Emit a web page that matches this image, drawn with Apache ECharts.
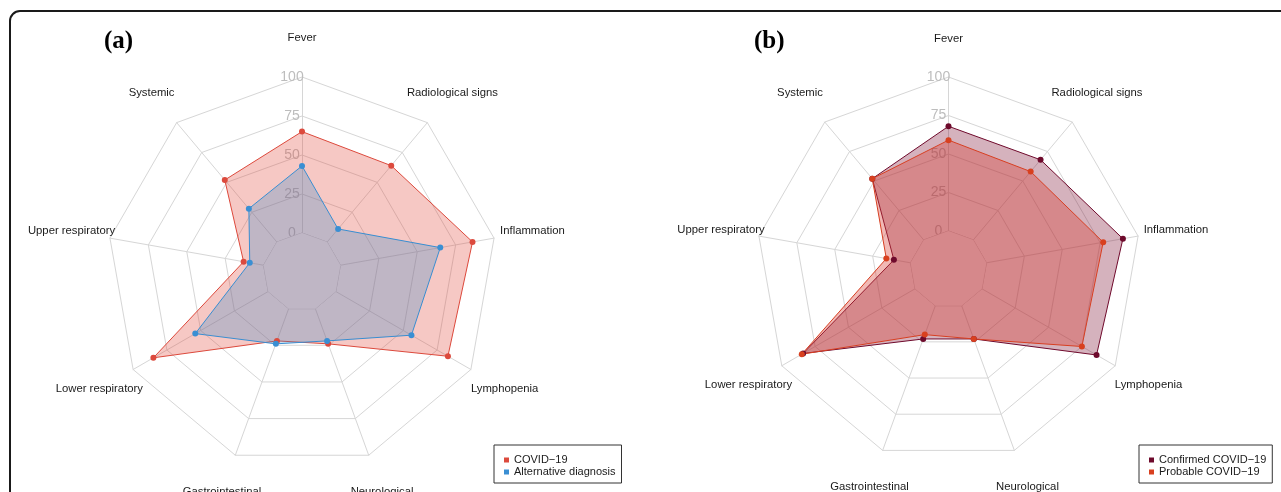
<!DOCTYPE html>
<html>
<head>
<meta charset="utf-8">
<script src="https://cdn.jsdelivr.net/npm/echarts@6/dist/echarts.min.js"></script>
<style>
html,body{margin:0;padding:0;background:#fff;}
#chart{width:1281px;height:492px;}
</style>
</head>
<body>
<div id="chart"></div>
<script>
// Indicators in ECharts order (counter-clockwise from top)
const categories = ['Fever', 'Systemic', 'Upper respiratory', 'Lower respiratory', 'Gastrointestinal', 'Neurological', 'Lymphopenia', 'Inflammation', 'Radiological signs'];
const tickMin = -25;
const tickMax = 100;
const tickStep = 25;

// Panel (a)
const covid19 = [65, 52, 13, 85, 22, 24, 83, 86, 64];
const alternativeDiagnosis = [43, 28, 9, 54, 24, 22, 56, 65, 11];
// Panel (b)
const confirmedCovid = [68, 52, 11, 84, 23, 23, 86, 90, 68];
const probableCovid = [59, 52, 16, 85, 20, 23, 75, 77, 58];

const namesA = ['COVID\u221219', 'Alternative diagnosis'];
const namesB = ['Confirmed COVID\u221219', 'Probable COVID\u221219'];

const FONT = 'Liberation Sans, Arial, sans-serif';
const GRID = '#d6d6d6';

function makeIndicators() {
  return categories.map((c, i) => {
    const o = { name: c, min: tickMin, max: tickMax };
    if (i === 0) o.axisLabel = { show: true };
    return o;
  });
}

function makeRadar(center, radius, gap) {
  return {
    center: center,
    radius: radius,
    startAngle: 90,
    shape: 'polygon',
    splitNumber: (tickMax - tickMin) / tickStep,
    indicator: makeIndicators(),
    axisName: {
      color: '#1a1a1a',
      fontSize: 11.3,
      fontFamily: FONT,
      align: 'center',
      verticalAlign: 'middle'
    },
    nameGap: gap,
    axisLine: { show: true, lineStyle: { color: GRID, width: 1 } },
    splitLine: { show: true, lineStyle: { color: GRID, width: 1 } },
    splitArea: { show: false },
    axisTick: { show: false },
    axisLabel: {
      show: false,
      color: '#bdbdbd',
      fontSize: 14,
      fontFamily: FONT,
      margin: 10,
      align: 'center',
      verticalAlign: 'middle',
      formatter: v => (v < 0 ? '' : String(v))
    }
  };
}

// white mask inside the "0" ring so the spokes start at that ring
function makeMask(radarIndex) {
  return {
    type: 'radar',
    name: 'mask' + radarIndex,
    radarIndex: radarIndex,
    symbol: 'none',
    silent: true,
    emphasis: { disabled: true },
    itemStyle: { color: GRID },
    lineStyle: { color: GRID, width: 1 },
    areaStyle: { color: '#ffffff', opacity: 1 },
    data: [{ name: 'mask' + radarIndex, value: categories.map(() => 0) }]
  };
}

function makeSeries(name, radarIndex, values, color, fill) {
  return {
    type: 'radar',
    name: name,
    radarIndex: radarIndex,
    symbol: 'circle',
    symbolSize: 6,
    itemStyle: { color: color },
    lineStyle: { color: color, width: 1 },
    areaStyle: { color: fill, opacity: 1 },
    data: [{ name: name, value: values }],
    emphasis: { disabled: true },
    silent: true
  };
}

function makeLegend(names, left) {
  return {
    data: names.map(n => ({ name: n, icon: 'rect' })),
    orient: 'vertical',
    left: left,
    top: 445,
    itemWidth: 5,
    itemHeight: 5,
    itemGap: 0,
    padding: [9, 6, 5, 10],
    borderColor: '#333',
    borderWidth: 1,
    selectedMode: false,
    textStyle: { fontSize: 11, fontFamily: FONT, color: '#1a1a1a', lineHeight: 12 }
  };
}

const chart = echarts.init(document.getElementById('chart'), null, { renderer: 'canvas' });
chart.setOption({
  animation: false,
  backgroundColor: '#ffffff',
  title: [
    { text: '(a)', left: 99, top: 24, textStyle: { fontFamily: 'Liberation Serif, Times New Roman, serif', fontWeight: 'bold', fontSize: 25, color: '#000' } },
    { text: '(b)', left: 749, top: 24, textStyle: { fontFamily: 'Liberation Serif, Times New Roman, serif', fontWeight: 'bold', fontSize: 25, color: '#000' } }
  ],
  graphic: [{
    type: 'rect',
    shape: { x: 10, y: 11, width: 1400, height: 700, r: 10 },
    style: { fill: 'none', stroke: '#1a1a1a', lineWidth: 2 },
    silent: true,
    z: 100
  }],
  legend: [makeLegend(namesA, 494), makeLegend(namesB, 1139)],
  radar: [
    makeRadar([302, 272], 195, 39),
    makeRadar([948.5, 269.5], 192.5, 38.5)
  ],
  series: [
    makeMask(0),
    makeMask(1),
    makeSeries(namesA[0], 0, covid19, '#dc4a3d', 'rgba(224,72,58,0.30)'),
    makeSeries(namesA[1], 0, alternativeDiagnosis, '#3a8fd3', 'rgba(52,136,200,0.28)'),
    makeSeries(namesB[0], 1, confirmedCovid, '#6e0a2c', 'rgba(125,15,50,0.32)'),
    makeSeries(namesB[1], 1, probableCovid, '#d8401f', 'rgba(215,60,50,0.36)')
  ]
});
</script>
</body>
</html>
